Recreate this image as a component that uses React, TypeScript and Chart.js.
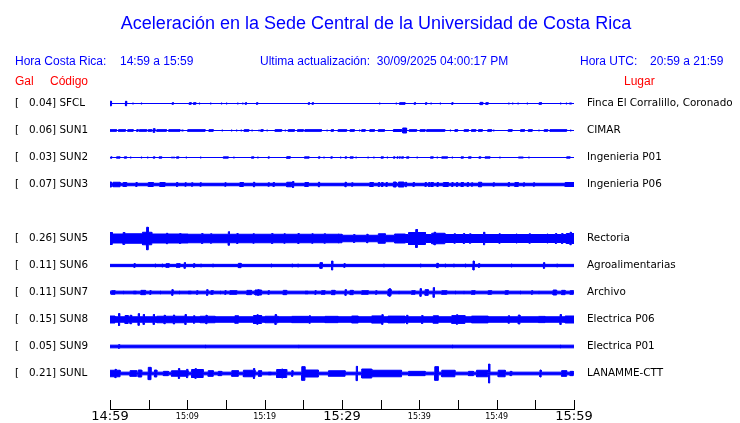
import React, { useEffect, useRef } from 'react';
import { Chart, registerables } from 'chart.js';

Chart.register(...registerables);

// ---------- data ----------
const TIME_LABELS = ['14:59', '15:09', '15:19', '15:29', '15:39', '15:49', '15:59'];
const CODES = ['SFCL', 'SUN1', 'SUN2', 'SUN3', 'SUN5', 'SUN6', 'SUN7', 'SUN8', 'SUN9', 'SUNL'];
const SLOTS = [0, 1, 2, 3, 5, 6, 7, 8, 9, 10];
const PEAKS = [0.04, 0.06, 0.03, 0.07, 0.26, 0.11, 0.11, 0.15, 0.05, 0.21];
const PLACES = [
  'Finca El Corralillo, Coronado', 'CIMAR', 'Ingenieria P01', 'Ingenieria P06', 'Rectoria',
  'Agroalimentarias', 'Archivo', 'Electrica P06', 'Electrica P01', 'LANAMME-CTT',
];
// background envelope half-amplitude (gal) for each trace
const BASE = [0, 0, 0, 0.025, 0.065, 0.023, 0.027, 0.055, 0.027, 0.027];

// bursts: [minute, amp] or [startMinute, endMinute, amp]  (amp in gal)
const EV_SFCL = [
  [0, 0.2, 0.045], [2.0, 0.045], [2.9, 0.01], [4.0, 0.01], [8.05, 0.017], [10.25, 10.5, 0.017],
  [10.8, 11.1, 0.017], [11.5, 0.01], [12.95, 0.01], [14.35, 0.01], [15.0, 0.01], [16.45, 0.01],
  [17.1, 0.01], [17.5, 0.017], [18.95, 0.017], [25.65, 0.017], [26.15, 0.017], [34.8, 0.01],
  [36.95, 0.01], [37.45, 38.15, 0.017], [39.35, 0.017], [40.8, 0.017], [41.45, 0.01], [42.65, 0.01],
  [44.2, 0.017], [47.85, 48.2, 0.023], [48.6, 48.9, 0.017], [51.5, 0.01], [52.0, 0.01],
  [52.7, 52.85, 0.01], [53.9, 0.01], [55.5, 55.8, 0.017], [58.2, 0.01], [58.95, 0.01], [59.4, 59.7, 0.01],
];
const EV_SUN1 = [
  [0, 0.85, 0.017], [1.1, 2.0, 0.017], [2.3, 3.0, 0.017], [3.45, 3.65, 0.017], [3.8, 4.75, 0.017],
  [4.95, 5.4, 0.017], [5.6, 5.8, 0.037], [6.05, 7.3, 0.017], [7.6, 9.05, 0.017], [9.25, 9.5, 0.01],
  [10.05, 12.3, 0.017], [12.8, 13.35, 0.017], [14.45, 0.01], [15.65, 0.01], [16.3, 0.01], [16.9, 0.01],
  [17.35, 17.95, 0.017], [18.3, 0.01], [19.2, 0.01], [19.5, 19.8, 0.017], [20.25, 0.01], [21.35, 22.2, 0.017],
  [22.6, 0.01], [23.05, 23.85, 0.017], [24.25, 25.0, 0.017], [25.2, 27.35, 0.017], [28.0, 0.01],
  [28.6, 28.9, 0.017], [29.5, 30.6, 0.017], [31.05, 31.6, 0.017], [32.2, 0.01], [32.55, 33.0, 0.017],
  [33.6, 34.2, 0.017], [34.7, 35.5, 0.017], [36.65, 37.7, 0.02], [37.85, 38.35, 0.05], [38.7, 39.65, 0.017],
  [40.1, 40.75, 0.017], [40.95, 43.3, 0.017], [43.95, 0.01], [44.6, 44.95, 0.017], [45.8, 46.35, 0.017],
  [46.75, 47.3, 0.017], [47.65, 48.15, 0.017], [48.85, 49.35, 0.017], [49.55, 0.01], [51.5, 52.0, 0.017],
  [53.1, 53.6, 0.017], [54.1, 54.6, 0.017], [55.4, 0.01], [56.15, 56.6, 0.017], [56.9, 59.05, 0.017], [59.5, 0.01],
];
const EV_SUN2 = [
  [0.1, 0.013], [0.85, 1.3, 0.013], [1.85, 2.15, 0.013], [2.6, 0.01], [4.0, 0.01], [4.8, 0.01],
  [5.6, 5.8, 0.013], [6.35, 6.7, 0.013], [7.95, 0.01], [8.2, 0.01], [8.6, 8.9, 0.013], [9.8, 0.01],
  [11.65, 0.01], [14.65, 15.3, 0.013], [15.95, 0.01], [18.3, 18.6, 0.013], [19.05, 0.01], [20.45, 0.013],
  [22.85, 23.3, 0.017], [25.15, 25.75, 0.013], [26.95, 27.15, 0.013], [27.6, 0.01], [28.55, 28.75, 0.013],
  [29.75, 0.01], [30.4, 30.6, 0.013], [31.05, 31.45, 0.013], [31.75, 0.01], [33.3, 0.01], [34.05, 0.01],
  [35.05, 35.35, 0.013], [35.8, 0.01], [36.65, 36.85, 0.013], [37.1, 0.013], [37.4, 0.013],
  [37.7, 37.95, 0.013], [38.35, 38.65, 0.013], [39.65, 0.01], [41.45, 41.8, 0.013], [42.25, 0.01],
  [42.9, 43.65, 0.013], [44.2, 0.01], [45.4, 45.7, 0.013], [46.35, 46.7, 0.013], [47.7, 47.95, 0.013],
  [48.5, 49.15, 0.013], [50.35, 0.01], [52.8, 53.45, 0.01], [54.1, 0.01], [59.05, 59.5, 0.013],
];
const EV_SUN3 = [
  [0, 0.2, 0.05], [0.4, 1.3, 0.045], [1.7, 2.15, 0.04], [3.35, 0.04], [4.95, 5.6, 0.04], [6.45, 7.1, 0.04],
  [8.6, 0.04], [9.7, 0.035], [10.55, 0.035], [11.65, 0.035], [14.85, 0.035], [16.8, 17.25, 0.04],
  [18.55, 0.045], [20.45, 0.035], [21.1, 0.04], [22.85, 23.5, 0.045], [23.6, 0.06], [25.2, 25.65, 0.04],
  [26.95, 0.045], [30.4, 0.045], [31.25, 0.035], [33.6, 34.05, 0.04], [34.7, 0.04], [35.1, 35.3, 0.04],
  [35.7, 0.04], [36.65, 37.0, 0.05], [37.3, 38.0, 0.05], [38.2, 0.045], [39.2, 0.04], [40.75, 0.04],
  [41.2, 0.04], [41.5, 41.8, 0.04], [42.3, 0.04], [43.1, 43.75, 0.04], [44.2, 0.04], [44.8, 0.04],
  [45.4, 45.7, 0.04], [46.2, 0.04], [46.75, 0.035], [47.65, 48.05, 0.045], [49.55, 0.035], [51.5, 0.04],
  [52.35, 52.8, 0.04], [53.45, 0.035], [54.75, 0.035], [58.85, 60, 0.04],
];
const EV_SUN5 = [
  [0, 30, 0.085], [37, 60, 0.08], [0, 0.3, 0.12], [0.3, 1.7, 0.09], [1.7, 1.9, 0.12], [1.9, 4.2, 0.095],
  [4.2, 4.7, 0.125], [4.75, 4.95, 0.225], [4.95, 5.4, 0.125], [5.4, 10.1, 0.09], [7.3, 0.105], [9.0, 0.1],
  [11.85, 0.1], [13.0, 0.095], [15.3, 0.135], [16.4, 0.1], [18.5, 0.095], [20.9, 0.1], [22.5, 0.095],
  [24.3, 0.1], [26.1, 0.095], [27.7, 0.095], [29.5, 0.09], [31.5, 0.08], [33.2, 0.085], [34.7, 35.6, 0.095],
  [36.8, 38.2, 0.09], [38.6, 39.5, 0.12], [39.55, 39.75, 0.18], [39.75, 40.8, 0.12], [41.6, 41.9, 0.105],
  [41.9, 42.1, 0.125], [42.1, 43.3, 0.105], [44.5, 0.095], [45.7, 0.1], [46.5, 0.095], [48.3, 0.125],
  [50.3, 0.095], [52.5, 0.09], [54.2, 0.095], [56.5, 0.09], [57.6, 0.1], [58.4, 0.1], [59.0, 59.4, 0.1],
  [59.5, 0.125], [59.65, 60, 0.1],
];
const EV_SUN6 = [
  [3.1, 0.037], [5.8, 0.03], [6.7, 0.03], [7.25, 7.65, 0.037], [8.6, 9.05, 0.037], [9.6, 0.057],
  [10.8, 0.037], [11.7, 0.03], [13.25, 0.03], [16.6, 16.95, 0.043], [20.8, 0.03], [23.5, 0.03],
  [24.25, 0.03], [27.15, 27.45, 0.057], [28.65, 0.09], [30.25, 0.037], [35.35, 0.03], [40.1, 0.03],
  [42.25, 42.45, 0.043], [43.3, 0.03], [44.4, 0.03], [45.9, 0.03], [46.95, 0.09], [47.65, 0.037],
  [51.85, 0.03], [56.05, 0.057], [57.75, 0.03],
];
const EV_SUN7 = [
  [0.2, 0.65, 0.037], [1.7, 0.03], [3.0, 3.45, 0.03], [4.0, 4.6, 0.043], [5.15, 0.037], [6.45, 0.03],
  [8.0, 0.057], [8.9, 0.03], [10.1, 10.55, 0.03], [11.2, 0.037], [12.5, 0.057], [13.05, 13.35, 0.037],
  [14.2, 0.03], [14.85, 0.037], [15.5, 16.4, 0.037], [17.7, 18.3, 0.043], [18.75, 19.6, 0.05], [19.1, 0.057],
  [20.45, 0.037], [22.4, 22.85, 0.043], [25.2, 25.65, 0.03], [26.5, 0.037], [27.35, 27.8, 0.037],
  [28.65, 29.1, 0.043], [30.4, 0.057], [31.05, 31.45, 0.043], [32.55, 33.4, 0.037], [34.35, 0.037],
  [35.95, 36.35, 0.06], [36.1, 0.077], [37.3, 0.03], [39.0, 39.45, 0.037], [40.1, 0.077],
  [40.75, 41.15, 0.057], [41.8, 0.097], [42.9, 43.55, 0.037], [44.6, 0.03], [45.7, 0.03],
  [46.75, 47.2, 0.037], [48.9, 49.35, 0.037], [51.1, 51.5, 0.037], [53.0, 0.03], [54.5, 0.037],
  [55.4, 0.03], [57.3, 57.75, 0.05], [58.4, 58.85, 0.043], [59.5, 59.9, 0.037],
];
const EV_SUN8 = [
  [0, 0.65, 0.07], [1.1, 0.12], [1.95, 2.35, 0.08], [2.6, 2.8, 0.085], [3.65, 0.117], [4.3, 0.1],
  [5.6, 0.1], [6.05, 9.7, 0.065], [7.0, 0.085], [8.2, 0.09], [9.7, 0.1], [10.8, 0.075], [11.65, 13.6, 0.065],
  [12.4, 0.085], [16.15, 16.6, 0.075], [18.55, 19.6, 0.08], [19.0, 0.095], [20.05, 21.75, 0.065], [21.35, 0.1],
  [23.5, 25.65, 0.063], [25.75, 0.075], [27.8, 29.5, 0.063], [31.25, 32.1, 0.07], [33.85, 35.15, 0.072],
  [35.15, 0.097], [35.95, 38.15, 0.068], [38.35, 0.085], [40.3, 0.08], [41.8, 42.45, 0.075],
  [44.2, 45.9, 0.078], [44.8, 0.095], [46.75, 48.9, 0.068], [51.5, 0.075], [52.8, 53.0, 0.09],
  [55.4, 56.25, 0.062], [58.2, 0.1], [58.85, 60, 0.07],
];
const EV_SUN9 = [[1.1, 0.037], [12.3, 0.03], [24.35, 0.03], [44.2, 0.03], [58.2, 0.03]];
const EV_SUNL = [
  [0, 1.3, 0.065], [0.65, 0.083], [2.6, 3.45, 0.057], [3.65, 4.1, 0.07], [4.95, 5.3, 0.123],
  [5.75, 6.05, 0.07], [6.9, 7.55, 0.043], [7.95, 10.1, 0.055], [8.85, 0.1], [9.9, 0.083],
  [10.55, 12.05, 0.08], [11.0, 0.097], [12.7, 13.35, 0.057], [14.0, 14.45, 0.043], [15.75, 16.6, 0.057],
  [17.25, 18.75, 0.065], [18.55, 0.1], [19.2, 19.6, 0.057], [20.45, 20.9, 0.03], [21.55, 22.85, 0.08],
  [22.2, 0.09], [23.5, 0.057], [24.8, 25.2, 0.137], [25.2, 26.95, 0.07], [28.25, 30.4, 0.055],
  [31.85, 0.143], [32.55, 33.85, 0.09], [33.85, 37.7, 0.065], [38.6, 40.75, 0.043], [42.0, 42.45, 0.137],
  [42.9, 44.6, 0.065], [46.35, 47.0, 0.043], [47.4, 48.85, 0.065], [48.95, 0.19], [50.2, 51.1, 0.065],
  [51.75, 51.95, 0.043], [55.6, 0.07], [58.4, 59.05, 0.057], [59.5, 59.9, 0.043],
];
const EVENTS = [EV_SFCL, EV_SUN1, EV_SUN2, EV_SUN3, EV_SUN5, EV_SUN6, EV_SUN7, EV_SUN8, EV_SUN9, EV_SUNL];

// ---------- layout constants ----------
const ROW = 0.54; // gal between trace baselines
const Y_MIN = -0.55;
const Y_MAX = 6.11;
const BLUE = '#0000ff';
const SPIKE_W = 0.15;

function envelope(base: number, events: number[][]) {
  const evs = events.map((e) => (e.length === 2 ? [e[0], e[0] + SPIKE_W, e[1]] : e));
  const set = new Set<number>([0, 60]);
  evs.forEach((e) => {
    set.add(Math.max(0, Math.min(60, e[0])));
    set.add(Math.max(0, Math.min(60, e[1])));
  });
  const xs = Array.from(set).sort((a, b) => a - b);
  const pts: [number, number][] = [];
  for (let k = 0; k < xs.length - 1; k++) {
    const a = xs[k], b = xs[k + 1], mid = (a + b) / 2;
    let amp = base;
    evs.forEach((e) => { if (e[0] <= mid && e[1] >= mid) amp = Math.max(amp, e[2]); });
    pts.push([a, amp], [b, amp]);
  }
  return pts;
}

function leftLabel(i: number) {
  return '[   ' + PEAKS[i].toFixed(2) + '] ' + CODES[i];
}

const upTicks = {
  id: 'upTicks',
  afterDraw(chart: any) {
    const s = chart.scales.x;
    const { ctx, chartArea } = chart;
    ctx.save();
    ctx.beginPath();
    ctx.strokeStyle = '#000';
    ctx.lineWidth = 1;
    s.ticks.forEach((t: any) => {
      const px = Math.round(s.getPixelForValue(t.value)) + 0.5;
      ctx.moveTo(px, chartArea.bottom);
      ctx.lineTo(px, chartArea.bottom - 9);
    });
    ctx.stroke();
    ctx.restore();
  },
};

const noPad = (s: any) => {
  s.paddingTop = 0;
  s.paddingBottom = 0;
};

export default function App() {
  const ref = useRef<HTMLCanvasElement | null>(null);

  useEffect(() => {
    if (!ref.current) return;
    const datasets: any[] = [];
    CODES.forEach((_, i) => {
      const c = SLOTS[i] * ROW;
      const pts = envelope(BASE[i], EVENTS[i]);
      const common = {
        type: 'line',
        borderColor: BLUE,
        backgroundColor: BLUE,
        borderWidth: 1,
        pointRadius: 0,
        tension: 0,
      };
      datasets.push({ ...common, data: pts.map(([x, a]) => ({ x, y: c - a })), fill: false });
      datasets.push({ ...common, data: pts.map(([x, a]) => ({ x, y: c + a })), fill: '-1' });
    });

    const rowTicks = (scale: any) => {
      scale.ticks = SLOTS.map((s) => ({ value: s * ROW }));
    };

    const chart = new Chart(ref.current, {
      type: 'line',
      data: { datasets },
      plugins: [upTicks],
      options: {
        animation: false,
        responsive: false,
        devicePixelRatio: 1,
        events: [],
        layout: { padding: { top: 76, left: 15, right: 0, bottom: 0 } },
        plugins: { legend: { display: false }, tooltip: { enabled: false } },
        scales: {
          x: {
            type: 'linear',
            min: 0,
            max: 60,
            grid: { display: false, drawTicks: false },
            border: { display: true, color: '#000', width: 1 },
            afterFit: (s: any) => { s.height = 14; },
            ticks: {
              stepSize: 5,
              autoSkip: false,
              maxRotation: 0,
              padding: 1,
              color: '#000',
              font: (ctx: any) => ({
                family: 'DejaVu Sans',
                size: ctx.tick && ctx.tick.value % 30 === 0 ? 13 : 8,
                lineHeight: '14px',
              }),
              callback: (v: any) => (Number(v) % 10 === 0 ? TIME_LABELS[Number(v) / 10] : ''),
            },
          },
          y: {
            type: 'linear',
            position: 'left',
            reverse: true,
            min: Y_MIN,
            max: Y_MAX,
            grid: { display: false, drawTicks: false },
            border: { display: false },
            afterBuildTicks: rowTicks,
            afterFit: (s: any) => { s.width = 95; noPad(s); },
            ticks: {
              autoSkip: false,
              crossAlign: 'far',
              color: '#000',
              font: { family: 'DejaVu Sans', size: 10.4 },
              callback: (_v: any, idx: number) => leftLabel(idx),
            },
          },
          y2: {
            type: 'linear',
            position: 'right',
            reverse: true,
            min: Y_MIN,
            max: Y_MAX,
            grid: { display: false, drawTicks: false },
            border: { display: false },
            afterBuildTicks: rowTicks,
            afterFit: (s: any) => { s.width = 166; noPad(s); },
            ticks: {
              autoSkip: false,
              crossAlign: 'near',
              padding: 13,
              color: '#000',
              font: { family: 'DejaVu Sans', size: 10.4 },
              callback: (_v: any, idx: number) => PLACES[idx],
            },
          },
        },
      } as any,
    } as any);
    return () => chart.destroy();
  }, []);

  const txt = (s: string, left: number, top: number, color: string, size = 12): React.ReactNode => (
    <span
      key={s + left}
      style={{
        position: 'absolute', left, top, color, fontSize: size, lineHeight: '14px',
        fontFamily: '"Liberation Sans", Arial, sans-serif', whiteSpace: 'pre',
      }}
    >
      {s}
    </span>
  );

  return (
    <div style={{ position: 'absolute', left: 0, top: 0, width: 740, height: 423, background: '#fff' }}>
      <canvas ref={ref} width={740} height={423} style={{ position: 'absolute', left: 0, top: 0 }} />
      <div
        style={{
          position: 'absolute', left: 376, top: 12, transform: 'translateX(-50%)', color: BLUE,
          fontSize: 18, lineHeight: '22px', fontFamily: '"Liberation Sans", Arial, sans-serif', whiteSpace: 'pre',
        }}
      >
        Aceleración en la Sede Central de la Universidad de Costa Rica
      </div>
      {txt('Hora Costa Rica:', 15, 54, BLUE)}
      {txt('14:59 a 15:59', 120, 54, BLUE)}
      {txt('Ultima actualización:  30/09/2025 04:00:17 PM', 260, 54, BLUE)}
      {txt('Hora UTC:', 580, 54, BLUE)}
      {txt('20:59 a 21:59', 650, 54, BLUE)}
      {txt('Gal', 15, 74, '#ff0000')}
      {txt('Código', 50, 74, '#ff0000')}
      {txt('Lugar', 624, 74, '#ff0000')}
    </div>
  );
}
